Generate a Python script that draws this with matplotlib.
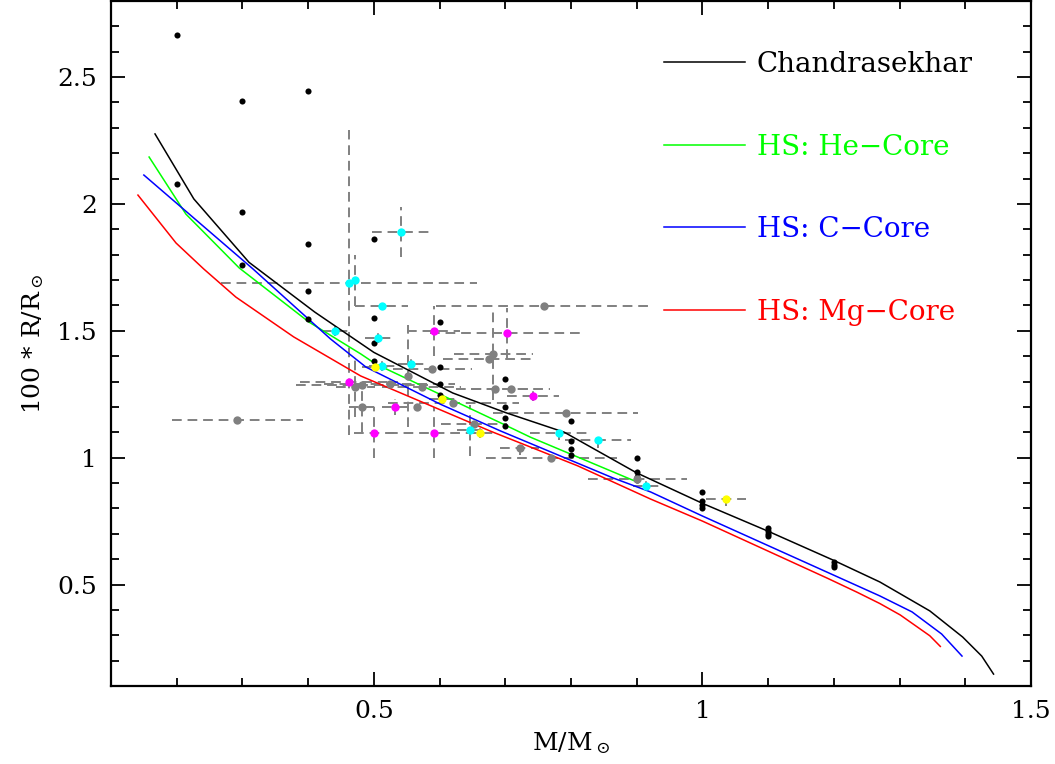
import matplotlib.pyplot as plt
from matplotlib.ticker import MultipleLocator, FormatStrFormatter

plt.rcParams['font.family'] = ['DejaVu Serif']
plt.rcParams['mathtext.fontset'] = 'dejavuserif'

# --- mass-radius relations (M/Msun, 100*R/Rsun)
chandra_m = [0.167, 0.226, 0.31, 0.41, 0.50, 0.62, 0.70, 0.79, 0.90, 1.0, 1.1, 1.2, 1.27, 1.346, 1.396, 1.425, 1.443]
chandra_r = [2.276, 2.02, 1.77, 1.574, 1.415, 1.255, 1.178, 1.10, 0.94, 0.82, 0.71, 0.595, 0.51, 0.396, 0.293, 0.218, 0.147]

he_m = [0.158, 0.214, 0.295, 0.401, 0.48, 0.503, 0.693, 0.738, 0.886, 0.90]
he_r = [2.185, 1.96, 1.748, 1.535, 1.409, 1.369, 1.137, 1.081, 0.92, 0.905]

c_m = [0.150, 0.316, 0.434, 0.488, 0.601, 0.693, 0.864, 0.921, 1.0, 1.252, 1.270, 1.319, 1.364, 1.395]
c_r = [2.114, 1.744, 1.468, 1.357, 1.211, 1.105, 0.92, 0.865, 0.77, 0.476, 0.455, 0.392, 0.305, 0.218]

mg_m = [0.141, 0.199, 0.241, 0.290, 0.378, 0.480, 0.677, 0.81, 0.921, 1.0, 1.19, 1.235, 1.270, 1.301, 1.346, 1.362]
mg_r = [2.035, 1.846, 1.744, 1.633, 1.476, 1.322, 1.105, 0.968, 0.837, 0.75, 0.525, 0.470, 0.425, 0.380, 0.298, 0.256]

# --- single-star estimates without errors
dot_m = [0.2, 0.2, 0.3, 0.3, 0.3, 0.4, 0.4, 0.4, 0.4, 0.5, 0.5, 0.5, 0.5,
         0.6, 0.6, 0.6, 0.6, 0.7, 0.7, 0.7, 0.7, 0.8, 0.8, 0.8, 0.8,
         0.9, 0.9, 0.9, 0.9, 1.0, 1.0, 1.0, 1.0, 1.1, 1.1, 1.1, 1.1, 1.2, 1.2, 1.2]
dot_r = [2.665, 2.078, 2.405, 1.97, 1.758, 2.445, 1.842, 1.656, 1.548, 1.860, 1.552, 1.450, 1.380,
         1.535, 1.358, 1.292, 1.246, 1.311, 1.200, 1.158, 1.124, 1.143, 1.066, 1.036, 1.010,
         0.999, 0.944, 0.925, 0.912, 0.865, 0.830, 0.815, 0.800, 0.724, 0.712, 0.700, 0.690, 0.588, 0.578, 0.568]

# --- measurements with errors: mass, radius, mass error, radius error
gray_m = [0.2925, 0.759, 0.682, 0.675, 0.589, 0.552, 0.472, 0.482, 0.524, 0.5726, 0.685, 0.708,
          0.621, 0.482, 0.566, 0.792, 0.652, 0.722, 0.770, 0.901]
gray_r = [1.148, 1.598, 1.408, 1.390, 1.349, 1.321, 1.279, 1.288, 1.290, 1.279, 1.270, 1.269,
          1.217, 1.200, 1.200, 1.178, 1.131, 1.039, 0.999, 0.914]
gray_dm = [0.10, 0.165, 0.06, 0.07, 0.06, 0.0, 0.03, 0.10, 0.10, 0.06, 0.06, 0.06,
           0.10, 0.02, 0.0, 0.11, 0.05, 0.03, 0.10, 0.075]
gray_dr = [0.0, 0.0, 0.18, 0.0, 0.0, 0.2, 0.12, 0.0, 0.0, 0.0, 0.0, 0.0,
           0.0, 0.1, 0.0, 0.0, 0.0, 0.03, 0.0, 0.0]

cyan_m = [0.542, 0.462, 0.472, 0.512, 0.441, 0.5065, 0.5126, 0.556, 0.647, 0.782, 0.841, 0.914]
cyan_r = [1.889, 1.690, 1.699, 1.598, 1.499, 1.470, 1.360, 1.368, 1.108, 1.098, 1.068, 0.888]
cyan_dm = [0.045, 0.195, 0.0, 0.04, 0.02, 0.02, 0.02, 0.02, 0.02, 0.045, 0.05, 0.02]
cyan_dr = [0.10, 0.60, 0.10, 0.0, 0.02, 0.02, 0.02, 0.02, 0.10, 0.03, 0.03, 0.02]

mag_m = [0.591, 0.703, 0.462, 0.532, 0.742, 0.50, 0.592]
mag_r = [1.499, 1.490, 1.299, 1.200, 1.244, 1.099, 1.099]
mag_dm = [0.04, 0.117, 0.075, 0.02, 0.04, 0.03, 0.07]
mag_dr = [0.10, 0.10, 0.0, 0.03, 0.02, 0.10, 0.10]

yel_m = [0.502, 0.604, 0.661, 1.036]
yel_r = [1.358, 1.233, 1.098, 0.839]
yel_dm = [0.02, 0.02, 0.02, 0.03]
yel_dr = [0.02, 0.02, 0.02, 0.03]

fig = plt.figure(figsize=(10.55, 7.64), dpi=100)
ax = fig.add_axes([111 / 1055, 1 - 686 / 764, 920 / 1055, 685 / 764])

# dashed grey error bars first, underneath everything
for m, r, dm, dr in [(gray_m, gray_r, gray_dm, gray_dr), (cyan_m, cyan_r, cyan_dm, cyan_dr),
                     (mag_m, mag_r, mag_dm, mag_dr), (yel_m, yel_r, yel_dm, yel_dr)]:
    eb = ax.errorbar(m, r, xerr=dm, yerr=dr, fmt='none', ecolor='#808080',
                     elinewidth=1.4, capsize=0, zorder=1)
    for lc in eb[2]:
        lc.set_linestyle((0, (5, 3)))

ax.plot(chandra_m, chandra_r, color='black', lw=1.1, zorder=2, label='Chandrasekhar')
ax.plot(he_m, he_r, color='#00ff00', lw=1.1, zorder=2, label='HS: He\u2212Core')
ax.plot(c_m, c_r, color='#0000ff', lw=1.1, zorder=2, label='HS: C\u2212Core')
ax.plot(mg_m, mg_r, color='#ff0000', lw=1.1, zorder=2, label='HS: Mg\u2212Core')

ax.plot(dot_m, dot_r, 'o', color='black', ms=4.4, mew=0, zorder=3)
ax.plot(gray_m, gray_r, 'o', color='#808080', ms=6, mew=0, zorder=3)
ax.plot(cyan_m, cyan_r, 'o', color='#00ffff', ms=6, mew=0, zorder=3)
ax.plot(mag_m, mag_r, 'o', color='#ff00ff', ms=6, mew=0, zorder=3)
ax.plot(yel_m, yel_r, 'o', color='#ffff00', ms=6, mew=0, zorder=3)

ax.set_xlim(0.1, 1.5)
ax.set_ylim(0.1, 2.8)
ax.xaxis.set_major_locator(MultipleLocator(0.5))
ax.xaxis.set_minor_locator(MultipleLocator(0.1))
ax.yaxis.set_major_locator(MultipleLocator(0.5))
ax.yaxis.set_minor_locator(MultipleLocator(0.1))
ax.xaxis.set_major_formatter(FormatStrFormatter('%g'))
ax.yaxis.set_major_formatter(FormatStrFormatter('%g'))
ax.tick_params(which='both', direction='in', top=True, right=True, width=1.3,
               labelsize=18)
ax.tick_params(which='major', length=10)
ax.tick_params(which='minor', length=5.5)
ax.tick_params(axis='x', pad=10)
ax.tick_params(axis='y', pad=10)
for s in ax.spines.values():
    s.set_linewidth(1.6)

ax.set_xlabel(r'M/M$_\odot$', fontsize=18, labelpad=5)
ax.set_ylabel(r'100 * R/R$_\odot$', fontsize=18, labelpad=8)

leg = ax.legend(loc='upper left', bbox_to_anchor=(0.601, 0.927), frameon=False,
                fontsize=20, handlelength=2.91, handletextpad=0.43,
                labelspacing=2.0, borderpad=0, borderaxespad=0,
                labelcolor='linecolor')

fig.savefig('out.png', dpi=100)
